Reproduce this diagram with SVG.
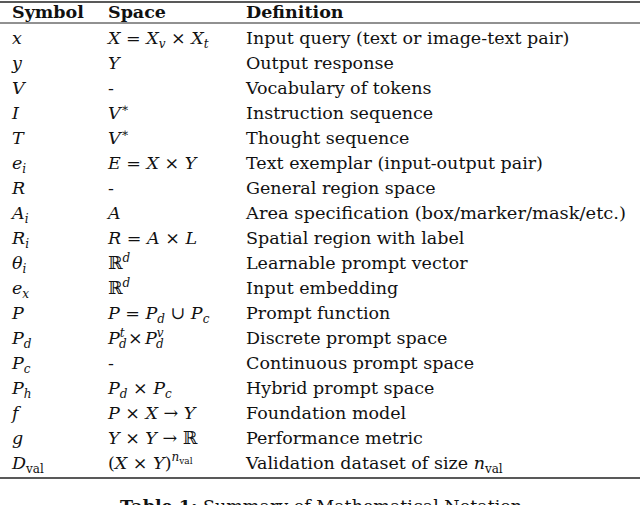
<svg xmlns="http://www.w3.org/2000/svg" width="640" height="505" viewBox="0 0 640 505">
<style>
text{font-family:"DejaVu Serif","Liberation Serif",serif;font-size:17.5px;fill:#111}
.h{font-weight:bold}
.m{font-style:italic}
.n{font-style:normal}
.s{font-size:12px}
line{stroke:#222}
</style>
<rect width="640" height="505" fill="#fff"/>
<g id="rules">
<line x1="0" y1="2" x2="640" y2="2" stroke-width="1.5"/>
<line x1="0" y1="23" x2="640" y2="23" stroke-width="1"/>
<line x1="0" y1="478" x2="640" y2="478" stroke-width="1.5"/>
</g>
<g id="header">
<text x="12" y="18" class="h">Symbol</text>
<text x="108" y="18" class="h">Space</text>
<text x="246" y="18" class="h">Definition</text>
</g>
<g id="col1">
<text x="12" y="44" class="m">x</text>
<text x="12" y="69" class="m">y</text>
<text x="12" y="94" class="m">V</text>
<text x="12" y="119" class="m">I</text>
<text x="12" y="144" class="m">T</text>
<text x="12" y="169" class="m">e<tspan class="s" dy="4">i</tspan></text>
<text x="12" y="194" class="m">R</text>
<text x="12" y="219" class="m">A<tspan class="s" dy="4">i</tspan></text>
<text x="12" y="244" class="m">R<tspan class="s" dy="4">i</tspan></text>
<text x="12" y="269" class="m">θ<tspan class="s" dy="4">i</tspan></text>
<text x="12" y="294" class="m">e<tspan class="s" dy="4">x</tspan></text>
<text x="12" y="319" class="m">P</text>
<text x="12" y="344" class="m">P<tspan class="s" dy="4">d</tspan></text>
<text x="12" y="369" class="m">P<tspan class="s" dy="4">c</tspan></text>
<text x="12" y="394" class="m">P<tspan class="s" dy="4">h</tspan></text>
<text x="12" y="419" class="m">f</text>
<text x="12" y="444" class="m">g</text>
<text x="12" y="469" class="m">D<tspan class="s n" dy="4">val</tspan></text>
</g>
<g id="col2">
<text x="108" y="44" class="m">X <tspan class="n">=</tspan> X<tspan class="s" dy="4">v</tspan><tspan dy="-4" class="n"> × </tspan>X<tspan class="s" dy="4">t</tspan></text>
<text x="108" y="69" class="m">Y</text>
<text x="108" y="94">-</text>
<text x="108" y="119" class="m">V<tspan class="s n" dy="-7">∗</tspan></text>
<text x="108" y="144" class="m">V<tspan class="s n" dy="-7">∗</tspan></text>
<text x="108" y="169" class="m">E <tspan class="n">=</tspan> X <tspan class="n">×</tspan> Y</text>
<text x="108" y="194">-</text>
<text x="108" y="219" class="m">A</text>
<text x="108" y="244" class="m">R <tspan class="n">=</tspan> A <tspan class="n">×</tspan> L</text>
<text x="108" y="269">ℝ<tspan class="s m" dy="-7">d</tspan></text>
<text x="108" y="294">ℝ<tspan class="s m" dy="-7">d</tspan></text>
<text x="108" y="319" class="m">P <tspan class="n">=</tspan> P<tspan class="s" dy="4">d</tspan><tspan dy="-4" class="n"> ∪ </tspan>P<tspan class="s" dy="4">c</tspan></text>
<text x="108" y="344" class="m">P<tspan class="s" dy="-7">t</tspan></text>
<text x="119" y="348" class="m s">d</text>
<text x="128" y="344" class="n">×</text>
<text x="145" y="344" class="m">P<tspan class="s" dy="-7">v</tspan></text>
<text x="156" y="348" class="m s">d</text>
<text x="108" y="369">-</text>
<text x="108" y="394" class="m">P<tspan class="s" dy="4">d</tspan><tspan dy="-4" class="n"> × </tspan>P<tspan class="s" dy="4">c</tspan></text>
<text x="108" y="419" class="m">P <tspan class="n">×</tspan> X <tspan class="n">→</tspan> Y</text>
<text x="108" y="444" class="m">Y <tspan class="n">×</tspan> Y <tspan class="n">→</tspan> <tspan class="n">ℝ</tspan></text>
<text x="108" y="469">(<tspan class="m">X</tspan> × <tspan class="m">Y</tspan>)<tspan class="s m" dy="-8">n</tspan><tspan style="font-size:9px" dy="3">val</tspan></text>
</g>
<g id="col3">
<text x="246" y="44">Input query (text or image-text pair)</text>
<text x="246" y="69">Output response</text>
<text x="246" y="94">Vocabulary of tokens</text>
<text x="246" y="119">Instruction sequence</text>
<text x="246" y="144">Thought sequence</text>
<text x="246" y="169">Text exemplar (input-output pair)</text>
<text x="246" y="194">General region space</text>
<text x="246" y="219" textLength="380" lengthAdjust="spacingAndGlyphs">Area specification (box/marker/mask/etc.)</text>
<text x="246" y="244">Spatial region with label</text>
<text x="246" y="269">Learnable prompt vector</text>
<text x="246" y="294">Input embedding</text>
<text x="246" y="319">Prompt function</text>
<text x="246" y="344">Discrete prompt space</text>
<text x="246" y="369">Continuous prompt space</text>
<text x="246" y="394">Hybrid prompt space</text>
<text x="246" y="419">Foundation model</text>
<text x="246" y="444">Performance metric</text>
<text x="246" y="469">Validation dataset of size <tspan class="m">n</tspan><tspan class="s" dy="4">val</tspan></text>
</g>
<g id="caption">
<text x="120" y="512"><tspan class="h">Table 1:</tspan> Summary of Mathematical Notation</text>
</g>
</svg>
